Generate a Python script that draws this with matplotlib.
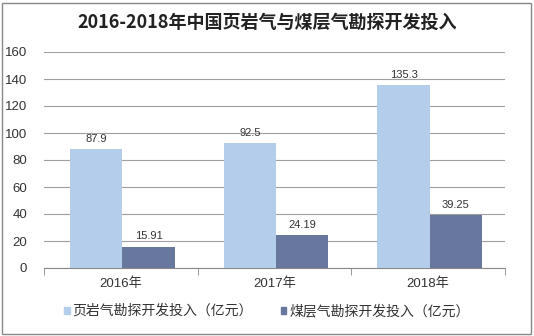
import numpy as np
import matplotlib.pyplot as plt
from matplotlib.patches import Rectangle

plt.rcParams['font.family'] = ['Liberation Sans', 'Noto Sans CJK SC', 'DejaVu Sans']

years = ['2016年', '2017年', '2018年']
shale = [87.9, 92.5, 135.3]
cbm = [15.91, 24.19, 39.25]
shale_labels = ['87.9', '92.5', '135.3']
cbm_labels = ['15.91', '24.19', '39.25']
series_names = ['页岩气勘探开发投入（亿元）', '煤层气勘探开发投入（亿元）']

c_light = '#B4CDEA'
c_dark = '#67779E'

fig = plt.figure(figsize=(5.34, 3.36), dpi=100)
ax = fig.add_axes([44 / 534, 1 - 268 / 336, (505 - 44) / 534, (268 - 52) / 336])

x = np.arange(len(years))
w = 0.34
b1 = ax.bar(x - w / 2 + 0.01, shale, w, color=c_light, zorder=3)
b2 = ax.bar(x + w / 2 + 0.01, cbm, w, color=c_dark, zorder=3)

for rect, lab in zip(b1, shale_labels):
    ax.text(rect.get_x() + rect.get_width() / 2, rect.get_height() + 4, lab,
            ha='center', va='bottom', fontsize=8, color='#333333')
for rect, lab in zip(b2, cbm_labels):
    ax.text(rect.get_x() + rect.get_width() / 2, rect.get_height() + 4, lab,
            ha='center', va='bottom', fontsize=8, color='#333333')

ax.set_xlim(-0.5, 2.5)
ax.set_ylim(0, 160)
ax.set_yticks(range(0, 161, 20))
ax.yaxis.grid(True, color='#A0A0A0', linewidth=0.8, zorder=0)
ax.tick_params(axis='y', length=0, labelsize=9.5, colors='#333333', pad=12)

ax.set_xticks(x)
ax.set_xticklabels(years, fontsize=9.5, color='#333333')
ax.set_xticks([-0.5, 0.5, 1.5, 2.5], minor=True)
ax.tick_params(axis='x', which='major', length=0, pad=7)
ax.tick_params(axis='x', which='minor', length=5, color='#888888', direction='out')

for s in ['top', 'right', 'left']:
    ax.spines[s].set_visible(False)
ax.spines['bottom'].set_color('#888888')

fig.text(0.5, 1 - 22 / 336, '2016-2018年中国页岩气与煤层气勘探开发投入',
         ha='center', va='center', fontsize=13, fontweight='bold', color='#222222',
         family=['Noto Sans CJK SC', 'DejaVu Sans'])

handles = [Rectangle((0, 0), 1, 1, color=c_light), Rectangle((0, 0), 1, 1, color=c_dark)]
fig.legend(handles, series_names, loc='center', bbox_to_anchor=(0.5, 1 - 311 / 336),
           ncol=2, frameon=False, fontsize=10, handlelength=0.4, handleheight=0.4,
           handletextpad=0.2, columnspacing=2.0, labelcolor='#333333')

# outer frame
fig.patches.append(Rectangle((2 / 534, 2 / 336), 529 / 534, 331 / 336, fill=False,
                             edgecolor='#888888', linewidth=1, transform=fig.transFigure))

fig.savefig('out.png', dpi=100)
